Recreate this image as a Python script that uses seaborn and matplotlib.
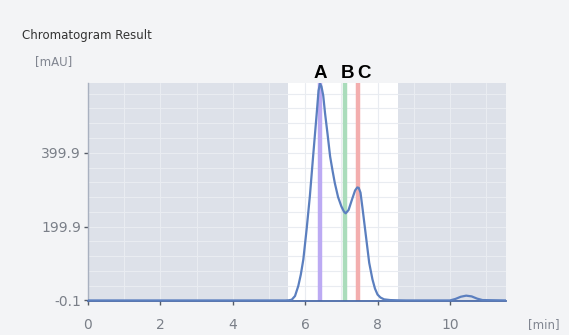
import matplotlib
matplotlib.use("Agg")
import matplotlib.pyplot as plt
import seaborn as sns
import pandas as pd

# Data
time_min = [0.0, 5.45, 5.55, 5.63, 5.72, 5.81, 5.88, 5.95, 6.04, 6.13, 6.22, 6.32, 6.37, 6.41, 6.45,
            6.5, 6.55, 6.62, 6.69, 6.76, 6.82, 6.91, 7.0, 7.07, 7.12, 7.2, 7.3, 7.38, 7.44, 7.48,
            7.53, 7.59, 7.68, 7.77, 7.86, 7.93, 8.0, 8.08, 8.18, 8.35, 8.6, 8.8,
            10.0, 10.15, 10.3, 10.45, 10.6, 10.75, 10.9, 11.55]
absorbance = [0.0, 0.0, 0.5, 2, 12, 39, 70, 111, 192, 282, 390, 507, 568, 587, 580,
              555, 507, 450, 390, 350, 318, 280, 255, 241, 236, 245, 275, 298, 306, 305,
              292, 246, 174, 102, 57, 32, 16, 8, 3, 1, 0.3, 0,
              0, 4, 10, 13, 11, 5, 1, 0]
marker_labels = ["A", "B", "C"]
marker_times = [6.41, 7.10, 7.46]
marker_colors = ["#bcaaf3", "#aadcbb", "#f3aeae"]
window = [5.52, 8.56]
x_ticks = [0, 2, 4, 6, 8, 10]
y_ticks = [-0.1, 199.9, 399.9]

df = pd.DataFrame({"t": time_min, "mAU": absorbance})

sns.set_style("white")
fig = plt.figure(figsize=(5.69, 3.35), dpi=100)
fig.patch.set_facecolor("#f3f4f6")
ax = fig.add_axes([88/569, 34/335, (506-88)/569, (301-83)/335])
ax.set_facecolor("#dde1e9")
ax.set_xlim(0, 11.55)
ax.set_ylim(-1.5, 589)

# white window
ax.axvspan(window[0], window[1], color="white", zorder=0.5, lw=0)

# grid
for xv in range(1, 12):
    ax.axvline(xv, color="#e9ecf1", lw=0.8, zorder=0.6)
for yv in range(40, 589, 40):
    ax.axhline(yv, color="#e9ecf1", lw=0.8, zorder=0.6)

for t, c in zip(marker_times, marker_colors):
    ax.axvline(t, color=c, lw=3.2, zorder=1)

sns.lineplot(data=df, x="t", y="mAU", ax=ax, color="#5b7fbf", lw=1.6, zorder=3)

label_x = [6.41, 7.18, 7.62]
for lab, lx in zip(marker_labels, label_x):
    ax.text(lx, 593, lab, ha="center", va="bottom", fontsize=13.5, fontweight="bold",
            color="black", family="Liberation Sans")

ax.set_xticks(x_ticks)
ax.set_yticks(y_ticks)
ax.set_xticklabels([str(v) for v in x_ticks])
ax.set_yticklabels([f"{v:.1f}" for v in y_ticks])
ax.tick_params(axis="both", colors="#555b66", labelcolor="#7a7f88", labelsize=10,
               length=3, width=1, bottom=True, left=True)
ax.tick_params(axis="x", pad=9)
ax.tick_params(axis="y", pad=2)
ax.set_xlabel("")
ax.set_ylabel("")
for s in ["top", "right"]:
    ax.spines[s].set_visible(False)
ax.spines["left"].set_color("#a9b1c0")
ax.spines["left"].set_linewidth(1)
ax.spines["bottom"].set_color("#4a6aa8")
ax.spines["bottom"].set_linewidth(1.3)

fig.text(22/569, 1 - 35/335, "Chromatogram Result", fontsize=8.5, color="#333333", va="center")
fig.text(35/569, 1 - 62/335, "[mAU]", fontsize=8.5, color="#808590", va="center")
fig.text(528/569, 1 - 325/335, "[min]", fontsize=8.5, color="#808590", va="center")

fig.savefig("out.png", dpi=100, facecolor=fig.get_facecolor())
